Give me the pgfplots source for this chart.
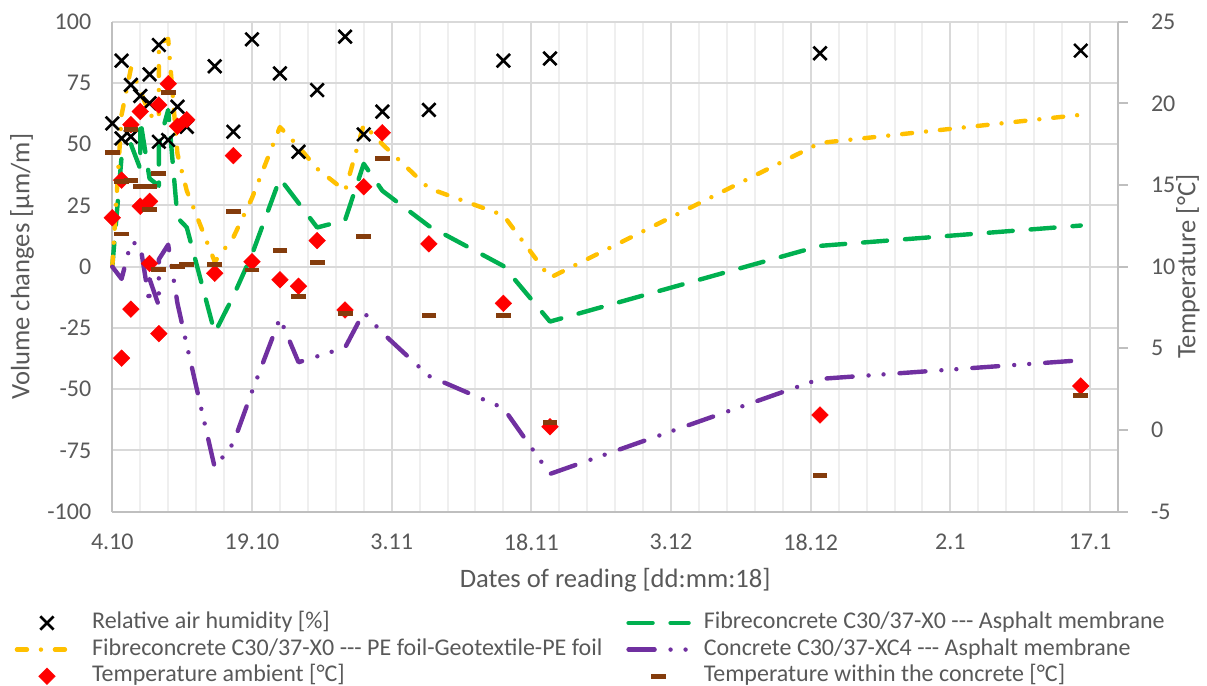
\documentclass[border=0pt]{standalone}
\usepackage{fontspec}
\setmainfont{Carlito}
\usepackage{pgfplots}
\pgfplotsset{compat=1.18}
\definecolor{ygold}{HTML}{FFC000}
\definecolor{grn}{HTML}{00B050}
\definecolor{purp}{HTML}{7030A0}
\definecolor{redd}{HTML}{FF0000}
\definecolor{brwn}{HTML}{843C0C}
\definecolor{txt}{HTML}{595959}
\definecolor{gridmaj}{HTML}{D9D9D9}
\definecolor{gridmin}{HTML}{EFEFEF}
\definecolor{axgray}{HTML}{BFBFBF}

\pgfplotsset{
  linelegend/.style={legend image code/.code={\draw[##1] (0pt,0pt) -- (30pt,0pt);}},
  marklegend/.style={legend image code/.code={\draw[##1] plot coordinates {(15pt,0pt)};}},
  grnline/.style={draw=grn, line width=2.2pt, line cap=round, line join=round,
    dash pattern=on 12pt off 9pt, mark=none, linelegend},
  yelline/.style={draw=ygold, line width=2.2pt, line cap=round, line join=round,
    dash pattern=on 5pt off 7pt on 0pt off 7pt, mark=none, linelegend},
  purline/.style={draw=purp, line width=2.2pt, line cap=round, line join=round,
    dash pattern=on 13pt off 8pt on 0pt off 7.5pt on 0pt off 8pt, mark=none, linelegend},
  hum/.style={only marks, mark=x, mark size=4.7pt,
    mark options={draw=black, line width=1.3pt, solid}, marklegend},
  ambT/.style={only marks, mark=square*, mark size=2.95pt,
    mark options={fill=redd, draw=redd, line width=0.2pt, rotate=45, solid}, marklegend},
  conT/.style={only marks, mark=-, mark size=3.7pt,
    mark options={draw=brwn, line width=2.4pt, solid}, marklegend},
  base/.style={at={(0pt,0pt)}, anchor=south west, scale only axis,
    width=502.85pt, height=245pt, xmin=0, xmax=108, clip=false,
    ticklabel style={font=\fontsize{12}{14}\selectfont, text=txt},
    label style={font=\fontsize{13.3}{16}\selectfont, text=txt},
    /pgf/number format/assume math mode=true},
}

\begin{document}
\begin{tikzpicture}
\path[use as bounding box] (-56.15pt,-87.15pt) rectangle (547.35pt,255.85pt);
\begin{axis}[base,
  ymin=-100, ymax=100,
  axis x line*=bottom, axis y line*=left,
  axis line style={draw=axgray, line width=1pt, -},
  xtick={0,15,...,105},
  xticklabels={4.10,19.10,3.11,18.11,3.12,18.12,2.1,17.1},
  minor xtick={3,6,9,12,18,21,24,27,33,36,39,42,48,51,54,57,63,66,69,72,78,81,84,87,93,96,99,102,108},
  ytick={-100,-75,...,100},
  major tick length=0pt, minor tick length=0pt,
  xmajorgrids, xminorgrids, ymajorgrids,
  major grid style={draw=gridmaj, line width=1pt},
  minor grid style={draw=gridmin, line width=1pt},
  yticklabel style={xshift=-7pt},
  xticklabel style={yshift=-7.5pt},
  xlabel={Dates of reading [dd:mm:18]},
  ylabel={Volume changes [µm/m]},
  xlabel style={at={(axis description cs:0.5,-0.139)}, anchor=center},
  ylabel style={at={(axis description cs:-0.0898,0.5)}, anchor=center},
]
% Fibreconcrete C30/37-X0 --- Asphalt membrane
\addplot[grnline] coordinates {(0,0) (1,45) (2,50) (3,40) (3,60) (4,36) (5,33) (5,50) (6,64)
  (7,20) (8,16) (11,-27) (13,-12) (15,5) (18,36) (20,26) (22,16) (25,19) (27,42) (29,31)
  (34,16.6) (42,0.3) (47,-22.4) (76,8.5) (104,16.8)};
% Fibreconcrete C30/37-X0 --- PE foil-Geotextile-PE foil
\addplot[yelline] coordinates {(0,0) (1,62) (2,81) (3,72) (4,62) (5,60) (5,91) (6,93)
  (7,46) (8,31) (11,2) (13,12) (15,28) (18,57) (20,49) (22,40) (25,31) (27,58) (29,50)
  (34,32) (42,21) (47,-4.5) (76,50.5) (104,62)};
% Concrete C30/37-XC4 --- Asphalt membrane
\addplot[purline] coordinates {(0,0) (1,-5) (2,10) (3,9) (4,-15) (4,-5) (5,-16) (5,3) (6,9)
  (7,-15) (8,-32) (11,-82) (13,-72) (15,-51) (18,-21) (20,-39) (22,-36.6) (25,-33)
  (27,-18.6) (29,-27) (34,-44.6) (42,-57.7) (47,-84.6) (76,-45.8) (104,-38.2)};
% relative air humidity
\addplot[hum] coordinates {(0,58.5) (1,84.1) (1,52.4) (2,74.2) (2,53.1) (3,69.7) (4,78.5)
  (4,66.7) (5,90.5) (5,51.0) (6,51.7) (7,65.3) (8,57.1) (11,81.8) (13,55.1) (15,92.8)
  (18,78.9) (20,46.9) (22,72.1) (25,93.9) (27,54.0) (29,63.3) (34,64.0) (42,84.1)
  (47,85.0) (76,87.1) (104,88.2)};
\end{axis}

\begin{axis}[base,
  ymin=-5, ymax=25,
  axis x line=none, axis y line*=right,
  axis line style={draw=axgray, line width=1pt, -},
  ytick={-5,0,...,25},
  tick align=outside, major tick length=5pt,
  ytick style={draw=axgray, line width=1pt},
  yticklabel style={xshift=8pt},
  ylabel={Temperature [°C]},
  ylabel style={at={(axis description cs:1.0696,0.5)}, anchor=center},
  legend columns=2,
  legend cell align=left,
  legend style={at={(axis description cs:-0.0974,-0.2008)}, anchor=north west,
    draw=none, fill=none, inner sep=0pt, text=txt,
    font=\fontsize{12}{14}\selectfont,
    nodes={inner sep=0pt, text height=9pt, text depth=3.5pt},
    row sep=0.8pt,
    /tikz/every odd column/.append style={column sep=6.5pt},
    /tikz/every even column/.append style={column sep=12pt}},
]
% ambient temperature
\addplot[ambT, forget plot] coordinates {(0,13.0) (1,15.3) (1,4.4) (2,18.7) (2,7.4) (3,19.5)
  (3,13.7) (4,14.0) (4,10.2) (5,19.9) (5,5.9) (6,21.2) (7,18.6) (8,19.0) (11,9.6) (13,16.8)
  (15,10.3) (18,9.2) (20,8.8) (22,11.6) (25,7.35) (27,14.9) (29,18.2) (34,11.4) (42,7.76)
  (47,0.2) (76,0.92) (104,2.7)};
% temperature within the concrete
\addplot[conT, forget plot] coordinates {(0,17.0) (1,15.2) (1,12.0) (2,18.4) (2,15.3) (3,14.9)
  (4,14.9) (4,13.5) (5,15.7) (5,9.84) (6,20.65) (7,10.0) (8,10.14) (11,10.14) (13,13.4)
  (15,9.8) (18,11.0) (20,8.16) (22,10.27) (25,7.14) (27,11.83) (29,16.6) (34,7.0) (42,7.0)
  (47,0.44) (76,-2.76) (104,2.1)};
\addlegendimage{hum}\addlegendentry{Relative air humidity [\%]}
\addlegendimage{grnline}\addlegendentry{Fibreconcrete C30/37-X0 -{}-{}- Asphalt membrane}
\addlegendimage{yelline}\addlegendentry{Fibreconcrete C30/37-X0 -{}-{}- PE foil-Geotextile-PE foil}
\addlegendimage{purline}\addlegendentry{Concrete C30/37-XC4 -{}-{}- Asphalt membrane}
\addlegendimage{ambT}\addlegendentry{Temperature ambient [°C]}
\addlegendimage{conT}\addlegendentry{Temperature within the concrete [°C]}
\end{axis}
\end{tikzpicture}
\end{document}
